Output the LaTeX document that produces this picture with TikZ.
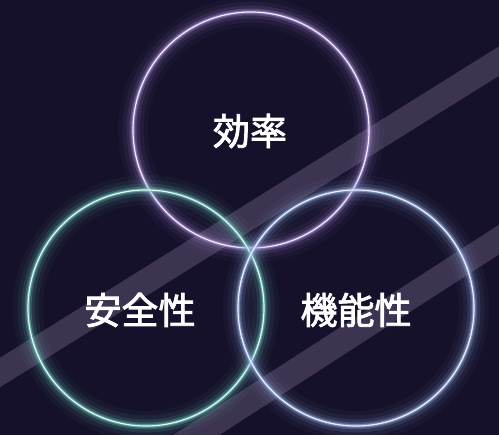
\documentclass[tikz,border=0pt]{standalone}
\usepackage{fontspec}
\newfontfamily\cjk{Noto Sans CJK JP}[FakeBold=2.2]
\definecolor{bg}{HTML}{15112A}
\definecolor{bandc}{HTML}{433B58}
\definecolor{purpleglow}{HTML}{A890D8}
\definecolor{purpleline}{HTML}{F2EAFC}
\definecolor{tealglow}{HTML}{70C8BE}
\definecolor{tealline}{HTML}{E0F8F4}
\definecolor{blueglow}{HTML}{98B2E4}
\definecolor{blueline}{HTML}{E8F0FF}
\tikzset{
  glow/.style={
    preaction={draw=#1, line width=30pt, draw opacity=0.04},
    preaction={draw=#1, line width=21pt, draw opacity=0.07},
    preaction={draw=#1, line width=13pt, draw opacity=0.13},
    preaction={draw=#1, line width=7pt, draw opacity=0.26},
    preaction={draw=#1, line width=3.5pt, draw opacity=0.55}
  },
  ring/.style={circle, minimum size=236pt, inner sep=0pt, line width=1.2pt},
  label/.style={text=white, font=\cjk\fontsize{37}{40}\selectfont},
  band/.style={line width=25pt, draw=bandc, draw opacity=0.85}
}
\begin{document}
\begin{tikzpicture}[x=1pt, y=-1pt]
  \useasboundingbox (0,0) rectangle (499,435);
  \clip (0,0) rectangle (499,435);
  \fill[bg] (0,0) rectangle (499,435);
  % diagonal bands
  \coordinate (b1s) at (-20,385);
  \coordinate (b1e) at (520,48);
  \coordinate (b2s) at (150,465);
  \coordinate (b2e) at (520,226);
  \draw[band] (b1s) -- (b1e);
  \draw[band] (b2s) -- (b2e);
  % circles
  \node[ring, glow=purpleglow, draw=purpleline] (eff) at (251,130) {};
  \node[ring, glow=tealglow, draw=tealline] (safe) at (146,308) {};
  \node[ring, glow=blueglow, draw=blueline] (func) at (356,308) {};
  % labels
  \node[label] (effl) at (250,131) {効率};
  \node[label] (safel) at (140,310) {安全性};
  \node[label] (funcl) at (356,310) {機能性};
\end{tikzpicture}
\end{document}
